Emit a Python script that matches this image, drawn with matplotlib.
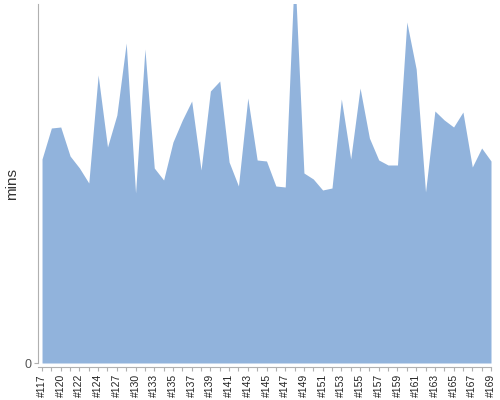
import matplotlib
matplotlib.use("Agg")
import matplotlib.pyplot as plt
import numpy as np

plt.rcParams['font.family'] = ['Liberation Sans', 'DejaVu Sans']

# build numbers (a few builds are missing from the job history)
builds = [117, 118, 120, 121, 122, 123, 124, 125, 127, 128, 130, 131,
          133, 134, 135, 136, 137, 138, 139, 140, 141, 142, 143, 144,
          145, 146, 147, 148, 149, 150, 151, 152, 153, 154, 155, 156,
          157, 158, 159, 160, 161, 162, 163, 164, 165, 166, 167, 168, 169]
# build duration
mins = [20.4, 23.5, 23.6, 20.7, 19.5, 18.0, 28.8, 21.6, 24.8, 32.0,
        17.0, 31.4, 19.5, 18.3, 22.1, 24.3, 26.2, 19.3, 27.2, 28.2,
        20.1, 17.7, 26.5, 20.3, 20.2, 17.7, 17.6, 39.5, 19.0, 18.4,
        17.3, 17.5, 26.4, 20.4, 27.5, 22.5, 20.3, 19.8, 19.8, 34.1,
        29.4, 17.1, 25.2, 24.3, 23.6, 25.1, 19.6, 21.5, 20.2]
labels = ["#%d" % b for b in builds]

fig = plt.figure(figsize=(5, 4), dpi=100)
ax = fig.add_axes([0.076, 0.0925, 0.906, 0.8975])

x = np.arange(len(builds))
ax.fill_between(x, 0, mins, color='#91b3dc', linewidth=0)

ax.set_xlim(-0.43, len(builds) - 1)
ax.set_ylim(0, 35.9)

ax.set_xticks(x)
ax.set_xticklabels([l if i % 2 == 0 else "" for i, l in enumerate(labels)])
ax.set_yticks([0])
ax.set_yticklabels(["0"])
ax.set_ylabel("mins", fontsize=11, color='#333333')
ax.yaxis.set_label_coords(-0.042, 0.5)

for s in ['top', 'right']:
    ax.spines[s].set_visible(False)
ax.spines['left'].set_color('#b0b0b0')
ax.spines['bottom'].set_color('#b0b0b0')
ax.spines['bottom'].set_position(('outward', 3))
ax.tick_params(axis='x', length=3, color='#b0b0b0', pad=2,
               labelrotation=90, labelsize=7.5, labelcolor='#222222')
ax.tick_params(axis='y', length=3, color='#b0b0b0', pad=2,
               labelsize=9, labelcolor='#555555')

fig.savefig("out.png", dpi=100)
